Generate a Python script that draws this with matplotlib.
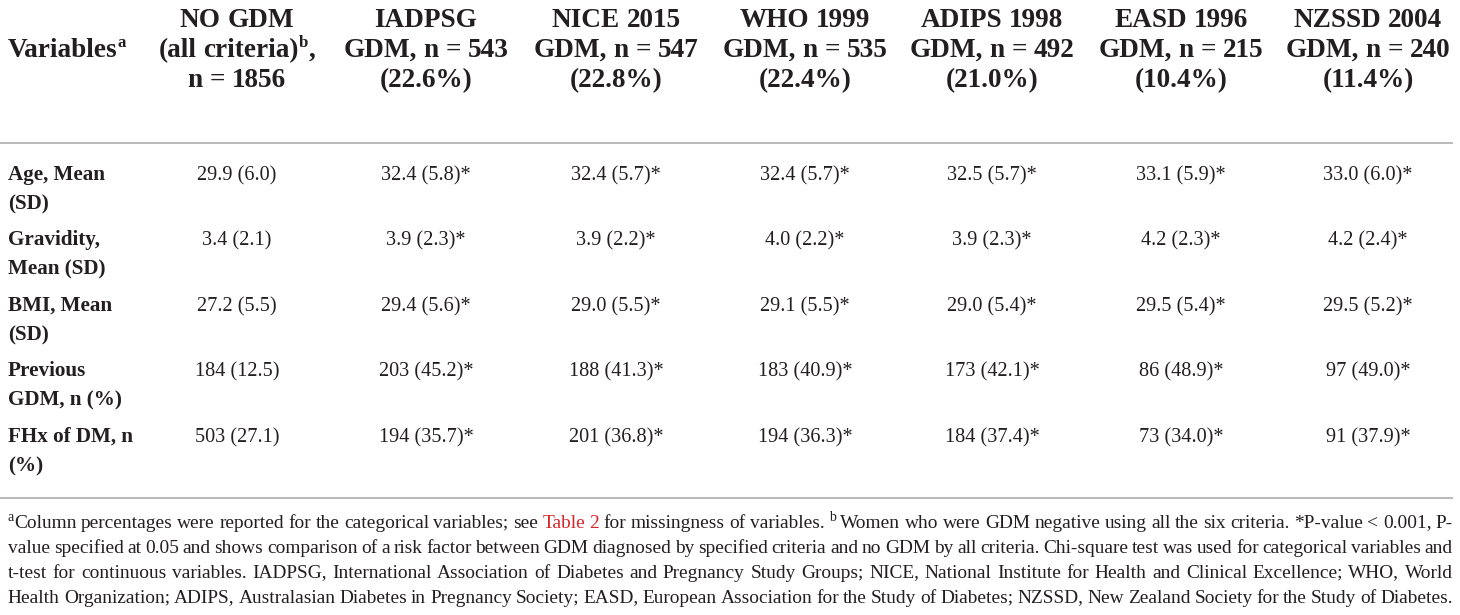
import re
import matplotlib
matplotlib.use("Agg")
import matplotlib.pyplot as plt

# ---------------- data ----------------
header_label = "Variables{a}"
col_headers = [
    ["NO GDM", "(all criteria){b},", "n = 1856"],
    ["IADPSG", "GDM, n = 543", "(22.6%)"],
    ["NICE 2015", "GDM, n = 547", "(22.8%)"],
    ["WHO 1999", "GDM, n = 535", "(22.4%)"],
    ["ADIPS 1998", "GDM, n = 492", "(21.0%)"],
    ["EASD 1996", "GDM, n = 215", "(10.4%)"],
    ["NZSSD 2004", "GDM, n = 240", "(11.4%)"],
]
row_labels = [
    ["Age, Mean", "(SD)"],
    ["Gravidity,", "Mean (SD)"],
    ["BMI, Mean", "(SD)"],
    ["Previous", "GDM, n (%)"],
    ["FHx of DM, n", "(%)"],
]
age_vals = ["29.9 (6.0)", "32.4 (5.8)*", "32.4 (5.7)*", "32.4 (5.7)*", "32.5 (5.7)*", "33.1 (5.9)*", "33.0 (6.0)*"]
gravidity_vals = ["3.4 (2.1)", "3.9 (2.3)*", "3.9 (2.2)*", "4.0 (2.2)*", "3.9 (2.3)*", "4.2 (2.3)*", "4.2 (2.4)*"]
bmi_vals = ["27.2 (5.5)", "29.4 (5.6)*", "29.0 (5.5)*", "29.1 (5.5)*", "29.0 (5.4)*", "29.5 (5.4)*", "29.5 (5.2)*"]
prev_gdm_vals = ["184 (12.5)", "203 (45.2)*", "188 (41.3)*", "183 (40.9)*", "173 (42.1)*", "86 (48.9)*", "97 (49.0)*"]
fhx_vals = ["503 (27.1)", "194 (35.7)*", "201 (36.8)*", "194 (36.3)*", "184 (37.4)*", "73 (34.0)*", "91 (37.9)*"]
footnote_lines = [
    "{a}Column percentages were reported for the categorical variables; see [Table] [2] for missingness of variables. {b} Women who were GDM negative using all the six criteria. *P-value < 0.001, P-",
    "value specified at 0.05 and shows comparison of a risk factor between GDM diagnosed by specified criteria and no GDM by all criteria. Chi-square test was used for categorical variables and",
    "t-test for continuous variables. IADPSG, International Association of Diabetes and Pregnancy Study Groups; NICE, National Institute for Health and Clinical Excellence; WHO, World",
    "Health Organization; ADIPS, Australasian Diabetes in Pregnancy Society; EASD, European Association for the Study of Diabetes; NZSSD, New Zealand Society for the Study of Diabetes.",
]
body_rows = [age_vals, gravidity_vals, bmi_vals, prev_gdm_vals, fhx_vals]

# ---------------- layout / style ----------------
W, H = 1460, 615
FONT = "Liberation Serif"
TXT = "#231f20"
RED = "#d7262b"
RULE = "#b4b4b4"
col_x = [237, 426, 616, 805, 992, 1181, 1368]
left_x = 8
right_x = 1453
hdr_y0, hdr_dy = 18, 30
rule_ys = [143, 498]
row_y0, row_pitch, line_dy = 173, 65.5, 29
foot_y0, foot_dy = 522, 25
HDR_SIZE, LBL_SIZE, VAL_SIZE, FOOT_SIZE_MAX = 19.6, 15.2, 14.6, 14.0
MIN_GAP_EM = 0.2
PX = 100 / 72

fig = plt.figure(figsize=(W / 100, H / 100), dpi=100)
ax = fig.add_axes([0, 0, 1, 1])
ax.set_xlim(0, W)
ax.set_ylim(H, 0)
ax.axis("off")
renderer = fig.canvas.get_renderer()
all_texts = []


def base(y, size):
    """baseline position for a line whose cap-height centre is at y"""
    return round(y + 0.33 * size * PX)


def fix_baseline(t):
    """compensate the raster rounding of the glyph bitmap so baselines line up"""
    s = t.get_text()
    if not s.strip():
        return
    w, h, d = renderer.get_text_width_height_descent(s, t.get_fontproperties(), ismath=False)
    h64, d64 = int(round(h * 64)), int(round(d * 64))
    yb = t.get_position()[1]
    err = round(yb + d) - yb - (h64 // 64) + ((h64 - d64) // 64)
    t.set_y(yb - err)


def parse(s):
    parts = []
    for tok in re.split(r"(\{\w+\}|\[[^\]]+\])", s):
        if not tok:
            continue
        if tok.startswith("{"):
            parts.append((tok[1:-1], "sup"))
        elif tok.startswith("["):
            parts.append((tok[1:-1], "red"))
        else:
            parts.append((tok, "n"))
    return parts


def make_parts(parts, y, size, weight, sup_ratio=0.62):
    objs = []
    b = base(y, size)
    for text, kind in parts:
        if kind == "sup":
            t = ax.text(0, b - round(size * PX * 0.36), text, fontsize=size * sup_ratio,
                        fontweight=weight, family=FONT, color=TXT, va="baseline", ha="left")
        else:
            t = ax.text(0, b, text, fontsize=size, fontweight=weight, family=FONT,
                        color=RED if kind == "red" else TXT, va="baseline", ha="left")
        objs.append(t)
    return objs


def text_width(t):
    return t.get_window_extent(renderer).width


def space_width(size, weight):
    a = ax.text(0, 0, "n n", fontsize=size, fontweight=weight, family=FONT)
    b = ax.text(0, 0, "nn", fontsize=size, fontweight=weight, family=FONT)
    w = text_width(a) - text_width(b)
    a.remove(); b.remove()
    return w


def draw_line(s, x, y, size, weight="normal", ha="left"):
    parts = parse(s)
    sw = space_width(size, weight)
    runs = []
    for text, kind in parts:
        pieces = text.split(" ")
        for i, p in enumerate(pieces):
            if i > 0:
                runs.append((None, "space"))
            if p:
                runs.append((p, kind))
    objs, widths = [], []
    for text, kind in runs:
        if kind == "space":
            objs.append(None); widths.append(sw)
        else:
            o = make_parts([(text, kind)], y, size, weight)[0]
            objs.append(o); widths.append(text_width(o))
            all_texts.append(o)
    total = sum(widths)
    cx = x - total / 2 if ha == "center" else x
    for o, w in zip(objs, widths):
        if o is not None:
            o.set_x(cx)
        cx += w


def line_word_width(s, size):
    tot = 0.0
    for w in s.split(" "):
        for o in make_parts(parse(w), 0, size, "normal", 0.72):
            tot += text_width(o)
            o.remove()
    return tot, len(s.split(" "))


def draw_justified(s, x0, x1, y, size):
    groups = []
    for w in s.split(" "):
        objs = make_parts(parse(w), y, size, "normal", 0.72)
        all_texts.extend(objs)
        groups.append((objs, [text_width(o) for o in objs]))
    total = sum(sum(ws) for _, ws in groups)
    gap = (x1 - x0 - total) / (len(groups) - 1)
    cx = x0
    for objs, ws in groups:
        for o, w in zip(objs, ws):
            o.set_x(cx)
            cx += w
        cx += gap


# choose the footnote size so every line fits with a minimal word gap
avail = right_x - left_x
foot_size = FOOT_SIZE_MAX
for ln in footnote_lines:
    tw, n = line_word_width(ln, 10.0)
    s_fit = avail / (tw / 10.0 + (n - 1) * MIN_GAP_EM * PX)
    foot_size = min(foot_size, s_fit)

# header
draw_line(header_label, left_x, hdr_y0 + hdr_dy, HDR_SIZE, "bold")
for cx, lines in zip(col_x, col_headers):
    for i, ln in enumerate(lines):
        draw_line(ln, cx, hdr_y0 + i * hdr_dy, HDR_SIZE, "bold", ha="center")

# rules
for ry in rule_ys:
    ax.plot([0, right_x], [ry, ry], color=RULE, lw=1.3, solid_capstyle="butt")

# body
for r, (lab, vals) in enumerate(zip(row_labels, body_rows)):
    y = row_y0 + r * row_pitch
    for i, ln in enumerate(lab):
        all_texts.append(ax.text(left_x, base(y + i * line_dy, LBL_SIZE), ln, fontsize=LBL_SIZE,
                                 fontweight="bold", family=FONT, color=TXT,
                                 va="baseline", ha="left"))
    for cx, v in zip(col_x, vals):
        all_texts.append(ax.text(cx, base(y, VAL_SIZE), v, fontsize=VAL_SIZE, family=FONT,
                                 color=TXT, va="baseline", ha="center"))

# footnote
for i, ln in enumerate(footnote_lines):
    draw_justified(ln, left_x, right_x, foot_y0 + i * foot_dy, foot_size)

for t in all_texts:
    fix_baseline(t)

fig.savefig("out.png", dpi=100, facecolor="white")
